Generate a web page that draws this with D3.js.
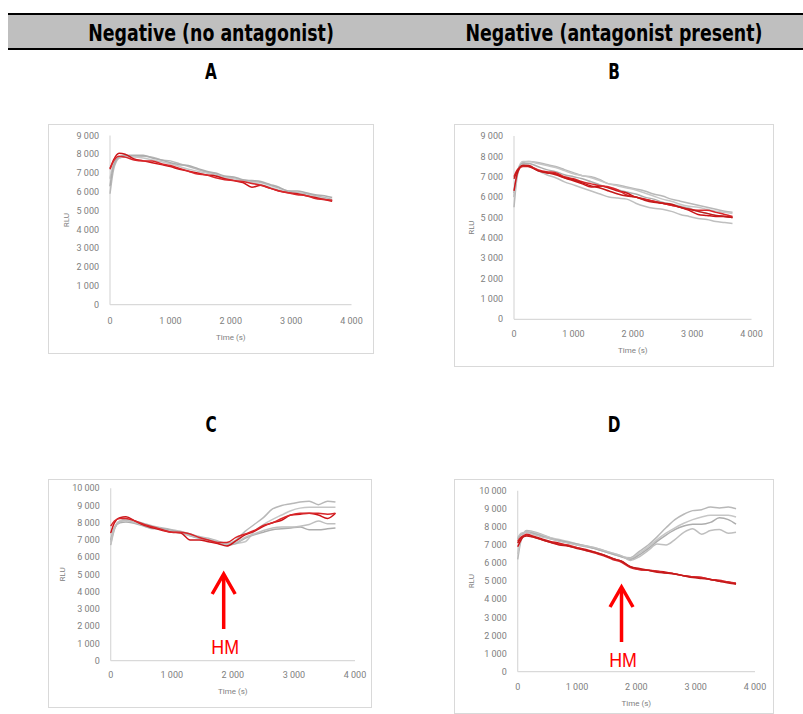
<!DOCTYPE html>
<html>
<head>
<meta charset="utf-8">
<script src="https://cdn.jsdelivr.net/npm/d3@7"></script>
<style>
  body { margin: 0; background: #fff; }
  text { font-family: Roboto, "Liberation Sans", sans-serif; }
</style>
</head>
<body>
<svg id="fig" width="803" height="714"></svg>
<script>
// Sampling times (s), shared by every trace
const times = [0, 60, 150, 250, 400, 550, 700, 850, 1000, 1150, 1300, 1450, 1600, 1750,
  1900, 2050, 2200, 2350, 2500, 2650, 2800, 2950, 3100, 3250, 3400, 3550, 3680];

// A — negative, no antagonist (RLU)
const grayA = [
  [5900, 7200, 7800, 7900, 7900, 7900, 7850, 7700, 7650, 7500, 7350, 7200, 7050, 6950, 6800, 6750, 6600, 6550, 6500, 6350, 6200, 6050, 5950, 5900, 5800, 5700, 5600],
  [6700, 7500, 7800, 7850, 7850, 7800, 7700, 7600, 7500, 7350, 7200, 7100, 7000, 6900, 6750, 6700, 6600, 6500, 6400, 6250, 6100, 6000, 5900, 5850, 5750, 5650, 5500],
  [6300, 7400, 7850, 7950, 7950, 7950, 7800, 7700, 7550, 7450, 7400, 7250, 7100, 7000, 6850, 6800, 6650, 6600, 6550, 6400, 6250, 6050, 6050, 5950, 5850, 5800, 5700]
];
const redA = [
  [7200, 7700, 8050, 8000, 7750, 7650, 7550, 7450, 7350, 7200, 7100, 7000, 6900, 6850, 6700, 6600, 6500, 6250, 6350, 6200, 6050, 5950, 5900, 5800, 5700, 5600, 5500],
  [7250, 7650, 7900, 7850, 7700, 7650, 7650, 7500, 7400, 7250, 7100, 6950, 6900, 6750, 6650, 6600, 6550, 6450, 6350, 6200, 6050, 5950, 5850, 5800, 5650, 5600, 5550]
];

// B — negative, antagonist present (RLU)
const grayB = [
  [5500, 7100, 7700, 7750, 7700, 7600, 7500, 7350, 7200, 7050, 7000, 6850, 6650, 6600, 6500, 6400, 6300, 6150, 6050, 5900, 5800, 5700, 5600, 5500, 5400, 5300, 5250],
  [6000, 7300, 7750, 7750, 7650, 7550, 7450, 7300, 7150, 7050, 6950, 6800, 6650, 6550, 6450, 6350, 6200, 6050, 5900, 5800, 5650, 5550, 5500, 5400, 5300, 5250, 5200],
  [6200, 7300, 7650, 7650, 7500, 7350, 7250, 7100, 7000, 6900, 6750, 6600, 6450, 6350, 6250, 6150, 6000, 5900, 5750, 5650, 5550, 5450, 5300, 5200, 5100, 5050, 5000],
  [6000, 7200, 7600, 7550, 7300, 7100, 6950, 6750, 6600, 6450, 6300, 6150, 6000, 5950, 5900, 5700, 5550, 5450, 5400, 5300, 5150, 5050, 4950, 4900, 4800, 4750, 4700]
];
const redB = [
  [6300, 7200, 7550, 7550, 7300, 7200, 7150, 6950, 6800, 6650, 6500, 6550, 6450, 6300, 6200, 6000, 5900, 5800, 5700, 5600, 5500, 5350, 5150, 5100, 5050, 5050, 5000],
  [7000, 7350, 7500, 7500, 7350, 7250, 7200, 7000, 6900, 6750, 6650, 6550, 6500, 6350, 6100, 6000, 5900, 5800, 5700, 5600, 5500, 5400, 5350, 5350, 5250, 5150, 5050],
  [6900, 7300, 7550, 7500, 7300, 7200, 7100, 6950, 6850, 6700, 6550, 6450, 6300, 6150, 6050, 6000, 5850, 5750, 5700, 5650, 5500, 5400, 5300, 5200, 5100, 5050, 5000]
];

// C — no antagonist, HM added (RLU)
const grayC = [
  [6700, 7600, 8100, 8200, 8100, 7950, 7800, 7700, 7600, 7500, 7350, 7200, 7100, 6950, 6800, 7000, 7500, 7900, 8300, 8800, 9000, 9100, 9200, 9250, 9050, 9250, 9200],
  [6800, 7700, 8100, 8150, 8000, 7850, 7700, 7650, 7550, 7500, 7300, 7150, 7050, 6900, 6750, 6800, 6900, 7500, 7900, 8200, 8450, 8700, 8850, 8900, 8900, 8900, 8900],
  [7000, 7700, 8000, 8050, 7950, 7800, 7650, 7650, 7550, 7450, 7250, 7100, 7000, 6850, 6700, 6800, 7100, 7300, 7450, 7600, 7650, 7700, 7750, 7600, 7600, 7650, 7700],
  [6900, 7650, 8050, 8150, 8000, 7850, 7750, 7600, 7500, 7400, 7250, 7150, 7050, 6900, 6750, 6850, 7150, 7350, 7550, 7700, 7750, 7750, 7800, 7900, 8100, 7950, 7950]
];
const redC = [
  [7400, 8000, 8300, 8350, 8100, 7850, 7700, 7550, 7450, 7400, 7000, 7000, 6900, 6800, 6650, 6950, 7300, 7500, 7800, 8000, 8150, 8450, 8500, 8550, 8450, 8250, 8550],
  [7800, 8100, 8250, 8250, 8100, 7900, 7750, 7600, 7450, 7450, 7350, 7150, 7000, 6850, 6850, 7150, 7350, 7550, 7850, 8000, 8250, 8450, 8550, 8550, 8550, 8500, 8550]
];

// D — antagonist present, HM added (RLU)
const grayD = [
  [6200, 7300, 7800, 7750, 7600, 7400, 7250, 7150, 7000, 6900, 6800, 6650, 6500, 6350, 6300, 6650, 7000, 7450, 7950, 8400, 8700, 8900, 8950, 9100, 9050, 9100, 9000],
  [6500, 7400, 7750, 7700, 7550, 7400, 7300, 7200, 7050, 6950, 6850, 6700, 6550, 6400, 6250, 6550, 6900, 7300, 7650, 7950, 8200, 8400, 8550, 8650, 8650, 8650, 8550],
  [7300, 7600, 7700, 7650, 7500, 7350, 7250, 7150, 7050, 6950, 6800, 6650, 6500, 6350, 6200, 6450, 6800, 7200, 7550, 7850, 8050, 8150, 8150, 8250, 8500, 8400, 8150],
  [7400, 7650, 7700, 7600, 7450, 7350, 7200, 7100, 7000, 6950, 6850, 6700, 6550, 6400, 6150, 6350, 6700, 7050, 7000, 7300, 7700, 7900, 7600, 7800, 7850, 7650, 7700]
];
const redD = [
  [6900, 7300, 7600, 7500, 7350, 7200, 7100, 6950, 6850, 6750, 6600, 6450, 6250, 6100, 5800, 5650, 5600, 5550, 5500, 5400, 5300, 5250, 5200, 5100, 5000, 4950, 4850],
  [7200, 7450, 7550, 7450, 7300, 7150, 7050, 7000, 6850, 6700, 6550, 6400, 6200, 6050, 5750, 5650, 5600, 5550, 5450, 5400, 5300, 5250, 5200, 5100, 5050, 4950, 4900],
  [7100, 7400, 7500, 7450, 7300, 7150, 7000, 6950, 6800, 6700, 6600, 6450, 6250, 6100, 5800, 5700, 5600, 5500, 5450, 5400, 5300, 5200, 5150, 5100, 5000, 4900, 4850]
];

// Axis ticks and labels
const xTicks = [0, 1000, 2000, 3000, 4000];
const columnTitles = ["Negative (no antagonist)", "Negative (antagonist present)"];
const panelLetters = ["A", "B", "C", "D"];
const hmTime = [null, null, 1850, 1750]; // time at which HM is added (C, D)

const svg = d3.select("#fig");
const fmt = v => d3.format(",")(v).replace(/,/g, " ");

// Column header band
svg.append("rect").attr("x", 8).attr("y", 14).attr("width", 795).attr("height", 35).attr("fill", "#bfbfbf");
[14, 49].forEach(y => svg.append("line").attr("x1", 8).attr("x2", 803).attr("y1", y).attr("y2", y)
  .attr("stroke", "#000").attr("stroke-width", 2));

// Condensed bold face: a narrow font drawn slightly taller than wide
const headFont = '"DejaVu Sans Condensed", "Liberation Sans Narrow", sans-serif';
[211, 614].forEach((cx, i) => {
  svg.append("text").attr("transform", `translate(${cx},41) scale(0.92,1.12)`)
    .attr("text-anchor", "middle")
    .attr("font-size", 21).attr("font-weight", "bold").style("font-family", headFont)
    .text(columnTitles[i]);
});
[[211, 79], [614, 79], [211, 432], [614, 432]].forEach(([cx, y], i) => {
  svg.append("text").attr("transform", `translate(${cx},${y}) scale(0.85,1.1)`)
    .attr("text-anchor", "middle")
    .attr("font-size", 20).attr("font-weight", "bold").style("font-family", headFont)
    .text(panelLetters[i]);
});

// Panel layout
const panels = [
  { frame: [48, 124, 373, 353], x0: 110, x1: 351.5, yb: 304.7, yt: 135.5, ymax: 9000,
    tickY: 321, titleY: 337, rluX: 66, grays: grayA, reds: redA },
  { frame: [454, 124, 773, 366], x0: 514, x1: 751.5, yb: 319.3, yt: 136, ymax: 9000,
    tickY: 333.5, titleY: 350, rluX: 471, grays: grayB, reds: redB },
  { frame: [48, 479, 371, 707], x0: 110.7, x1: 355, yb: 660.7, yt: 488.3, ymax: 10000,
    tickY: 675, titleY: 691.5, rluX: 62, grays: grayC, reds: redC },
  { frame: [454, 479, 773, 713], x0: 517.7, x1: 755, yb: 671.7, yt: 490.7, ymax: 10000,
    tickY: 686.7, titleY: 703, rluX: 471, grays: grayD, reds: redD }
];

const grayShades = ["#b8b8b8", "#c6c6c6", "#adadad", "#bfbfbf"];
const redShades = ["#cc1418", "#d8262a", "#c41a1a"];

panels.forEach((p, pi) => {
  const g = svg.append("g");
  const [fx0, fy0, fx1, fy1] = p.frame;
  g.append("rect").attr("x", fx0 + 0.5).attr("y", fy0 + 0.5)
    .attr("width", fx1 - fx0).attr("height", fy1 - fy0)
    .attr("fill", "#fff").attr("stroke", "#d9d9d9").attr("stroke-width", 1);

  const x = d3.scaleLinear().domain([0, 4000]).range([p.x0, p.x1]);
  const y = d3.scaleLinear().domain([0, p.ymax]).range([p.yb, p.yt]);

  // axis lines
  g.append("line").attr("x1", p.x0).attr("x2", p.x1).attr("y1", p.yb).attr("y2", p.yb)
    .attr("stroke", "#d9d9d9").attr("stroke-width", 1.2);
  g.append("line").attr("x1", p.x0).attr("x2", p.x0).attr("y1", p.yb).attr("y2", p.yt)
    .attr("stroke", "#d9d9d9").attr("stroke-width", 1.2);

  // tick labels
  g.selectAll(".yt").data(d3.range(0, p.ymax + 1, 1000)).enter().append("text")
    .attr("x", p.x0 - 11).attr("y", d => y(d)).attr("dy", "0.35em")
    .attr("text-anchor", "end").attr("font-size", 9).attr("fill", "#808080")
    .text(fmt);
  g.selectAll(".xt").data(xTicks).enter().append("text")
    .attr("x", d => x(d)).attr("y", p.tickY).attr("dy", "0.35em")
    .attr("text-anchor", "middle").attr("font-size", 9).attr("fill", "#808080")
    .text(fmt);

  // axis titles
  g.append("text").attr("x", (p.x0 + p.x1) / 2).attr("y", p.titleY).attr("dy", "0.35em")
    .attr("text-anchor", "middle").attr("font-size", 8).attr("fill", "#808080").text("Time (s)");
  g.append("text").attr("transform", `translate(${p.rluX},${(p.yb + p.yt) / 2}) rotate(-90)`)
    .attr("dy", "0.35em").attr("text-anchor", "middle").attr("font-size", 8)
    .attr("fill", "#808080").text("RLU");

  const line = d3.line().x((d, i) => x(times[i])).y(d => y(d)).curve(d3.curveMonotoneX);
  p.grays.forEach((s, i) => g.append("path").attr("d", line(s)).attr("fill", "none")
    .attr("stroke", grayShades[i % grayShades.length]).attr("stroke-width", 1.5));
  p.reds.forEach((s, i) => g.append("path").attr("d", line(s)).attr("fill", "none")
    .attr("stroke", redShades[i % redShades.length]).attr("stroke-width", 1.5));

  // HM addition marker
  if (hmTime[pi] !== null) {
    const ax = x(hmTime[pi]);
    const tip = pi === 2 ? 574 : 587;
    const a = g.append("g").attr("stroke", "#ff0000").attr("stroke-width", 3.5).attr("fill", "none");
    a.append("line").attr("x1", ax).attr("x2", ax).attr("y1", tip + 55).attr("y2", tip + 2);
    a.append("path").attr("d", `M${ax - 11.5},${tip + 20}L${ax},${tip}L${ax + 11.5},${tip + 20}`)
      .attr("stroke-linejoin", "miter");
    g.append("text").attr("transform", `translate(${ax + 1.5},${tip + 80}) scale(0.85,1)`)
      .attr("text-anchor", "middle")
      .attr("font-size", 21).attr("fill", "#ff0000").style("font-family", '"Liberation Sans", sans-serif')
      .text("HM");
  }
});
</script>
</body>
</html>
